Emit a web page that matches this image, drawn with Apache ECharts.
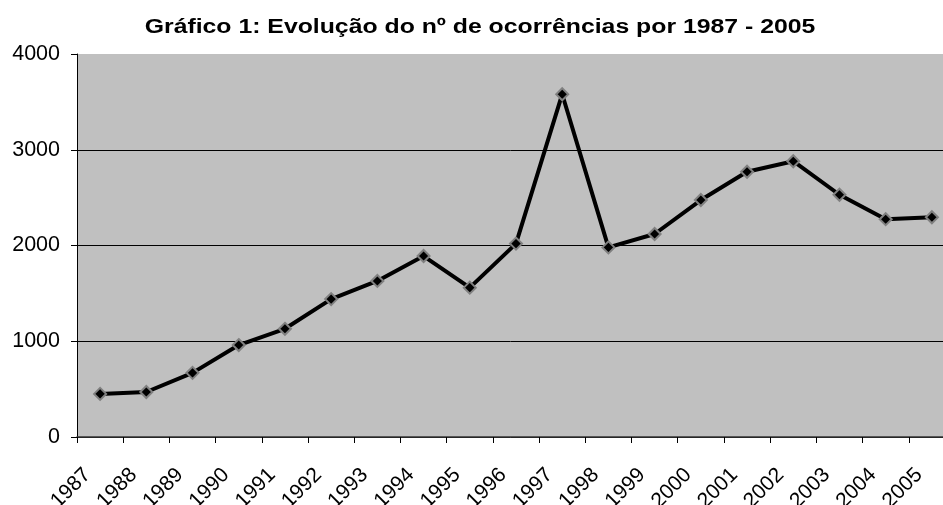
<!DOCTYPE html>
<html>
<head>
<meta charset="utf-8">
<script src="https://cdn.jsdelivr.net/npm/echarts@6/dist/echarts.min.js"></script>
<style>
  html, body { margin: 0; padding: 0; background: #fff; }
  #chart { width: 943px; height: 505px; }
</style>
</head>
<body>
<div id="chart"></div>
<script>
const years = ["1987", "1988", "1989", "1990", "1991", "1992", "1993", "1994", "1995", "1996",
  "1997", "1998", "1999", "2000", "2001", "2002", "2003", "2004", "2005"];
const ocorrencias = [450, 470, 670, 960, 1130, 1440, 1630, 1890, 1560, 2020,
  3580, 1980, 2120, 2475, 2770, 2880, 2530, 2275, 2295];
const titulo = "Gráfico 1: Evolução do nº de ocorrências por 1987 - 2005";

const font = "'Liberation Sans', Arial, sans-serif";

let chart = echarts.init(document.getElementById("chart"));
chart.setOption({
  animation: false,
  // título desenhado como texto gráfico, alargado na horizontal como no original
  graphic: [
    {
      type: "text",
      x: 480,
      y: 27,
      scaleX: 1.24,
      style: {
        text: titulo,
        x: 0,
        y: 0,
        align: "center",
        verticalAlign: "middle",
        font: "bold 20px " + font,
        fill: "#000",
      },
    },
  ],
  grid: {
    left: 77,
    right: -12,
    top: 54,
    bottom: 68,
    outerBoundsMode: "none",
    containLabel: false,
    show: true,
    backgroundColor: "#C0C0C0",
    borderWidth: 0,
  },
  xAxis: {
    type: "category",
    data: years,
    boundaryGap: true,
    axisLine: { lineStyle: { color: "#333", width: 1.5 } },
    axisTick: { show: true, length: 6, lineStyle: { color: "#000" } },
    axisLabel: {
      rotate: 45,
      interval: 0,
      margin: 22,
      padding: [0, 18, 0, 0],
      fontFamily: font,
      fontSize: 21,
      color: "#000",
    },
    splitLine: { show: false },
  },
  yAxis: {
    type: "value",
    min: 0,
    max: 4000,
    interval: 1000,
    axisLine: { show: true, lineStyle: { color: "#000", width: 1 } },
    axisTick: { show: true, length: 6, lineStyle: { color: "#000" } },
    axisLabel: {
      fontFamily: font,
      fontSize: 21.5,
      color: "#000",
      margin: 17,
      formatter: (v) => String(v),
    },
    splitLine: {
      show: true,
      lineStyle: { color: ["#000", "#000", "#000", "#000", "#C0C0C0"], width: 1 },
    },
  },
  series: [
    {
      type: "line",
      data: ocorrencias,
      symbol: "diamond",
      symbolSize: 12,
      lineStyle: { color: "#000", width: 4 },
      itemStyle: { color: "#000", borderColor: "#808080", borderWidth: 2 },
    },
  ],
});
</script>
</body>
</html>
